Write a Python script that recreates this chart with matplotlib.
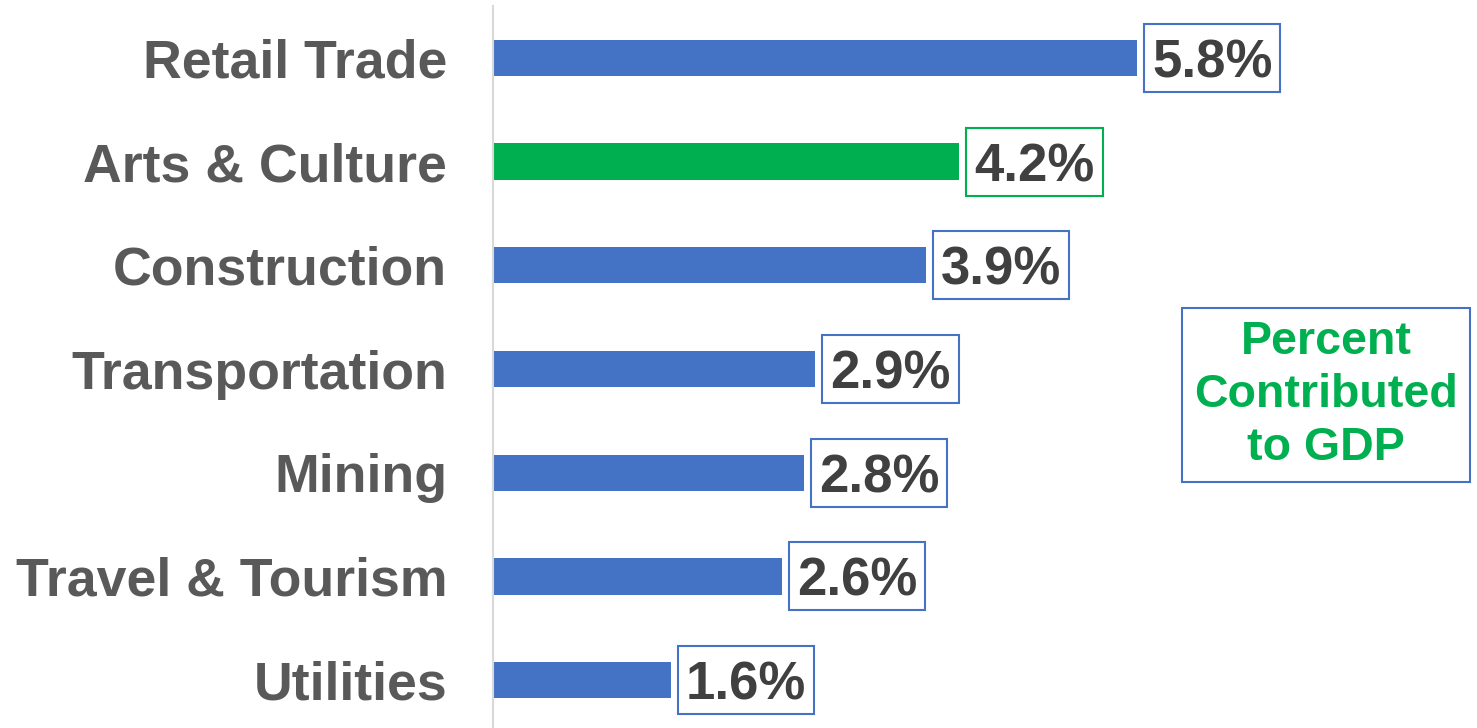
import matplotlib.pyplot as plt
from matplotlib.patches import Rectangle
from matplotlib.transforms import IdentityTransform

plt.rcParams['font.family'] = ['Liberation Sans', 'DejaVu Sans']

sectors = ['Retail Trade', 'Arts & Culture', 'Construction', 'Transportation',
           'Mining', 'Travel & Tourism', 'Utilities']
values = [5.8, 4.2, 3.9, 2.9, 2.8, 2.6, 1.6]
highlight = 'Arts & Culture'

blue = '#4472c4'
green = '#00b050'
colors = [green if s == highlight else blue for s in sectors]

fig = plt.figure(figsize=(14.77, 7.28), dpi=100)
ax = fig.add_axes([493 / 1477, -4 / 728, 1 - 493 / 1477, 726 / 728])

ypos = list(range(len(sectors)))
ax.barh(ypos, values, height=0.35, color=colors)
ax.set_ylim(len(sectors) - 0.5, -0.5)
ax.set_xlim(0, 984 / 111)

ax.set_yticks(ypos)
ax.set_yticklabels(sectors, fontsize=38.6, fontweight='bold', color='#595959')
ax.tick_params(axis='y', length=0, pad=33)
ax.set_xticks([])

for side in ['top', 'right', 'bottom']:
    ax.spines[side].set_visible(False)
ax.spines['left'].set_color('#d9d9d9')
ax.spines['left'].set_linewidth(1.5)

labels = []
for y, v in zip(ypos, values):
    t = ax.annotate(f'{v:.1f}%', xy=(v, y), xytext=(11, -4), textcoords='offset points',
                    ha='left', va='center', fontsize=38, fontweight='bold', color='#404040')
    labels.append(t)

# outline boxes round the value labels, centred on the bars
fig.canvas.draw()
r = fig.canvas.get_renderer()
for t, y, v, c in zip(labels, ypos, values, colors):
    bb = t.get_window_extent(r)
    cy = ax.transData.transform((v, y))[1]
    box = Rectangle((bb.x0 - 8, cy - 34), bb.width + 16, 68, transform=IdentityTransform(),
                    facecolor='none', edgecolor=c, linewidth=1.5)
    fig.add_artist(box)

fig.text(1326 / 1477, 1 - 395 / 728, 'Percent\nContributed\nto GDP',
         ha='center', va='center', fontsize=33.5, fontweight='bold', color=green,
         linespacing=1.27,
         bbox=dict(boxstyle='square,pad=0.25', facecolor='white',
                   edgecolor=blue, linewidth=1.5))

fig.savefig('out.png', dpi=100)
